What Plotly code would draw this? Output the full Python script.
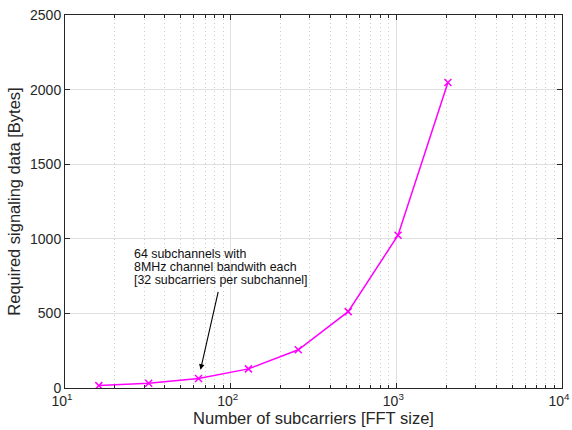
import plotly.graph_objects as go

subcarriers = [16, 32, 64, 128, 256, 512, 1024, 2048]
signaling_bytes = [16, 32, 64, 128, 256, 512, 1024, 2048]
x_tickvals = [10, 100, 1000, 10000]
x_ticktext = ["10<sup>1</sup>", "10<sup>2</sup>", "10<sup>3</sup>", "10<sup>4</sup>"]
y_tickvals = [0, 500, 1000, 1500, 2000, 2500]
note_lines = ["64 subchannels with", "8MHz channel bandwith each", "[32 subcarriers per subchannel]"]
note_y = [900, 812, 724]

fig = go.Figure()
fig.add_trace(go.Scatter(
    x=subcarriers, y=signaling_bytes, mode="lines+markers",
    line=dict(color="#FF00FF", width=1.5),
    marker=dict(symbol="x-thin", size=7, line=dict(color="#FF00FF", width=1.5)),
    showlegend=False,
))

fig.add_annotation(
    x=1.806, y=64, xref="x", yref="y",
    ax=20, ay=-88,
    text="", showarrow=True, arrowhead=2, arrowsize=1, arrowwidth=1.1,
    arrowcolor="black", standoff=9,
)
for line, yv in zip(note_lines, note_y):
    fig.add_annotation(
        x=1.405, y=yv, xref="x", yref="y", xanchor="left", yanchor="middle",
        text=line, showarrow=False, align="left",
        font=dict(size=12.4, color="#111111", family="Liberation Sans"),
    )

axis_common = dict(
    showline=True, linecolor="#262626", linewidth=1, mirror="allticks",
    ticks="inside", ticklen=5, tickcolor="#262626",
    tickfont=dict(size=14, color="#262626", family="Liberation Sans"),
    gridcolor="#DFDFDF", gridwidth=1, zeroline=False, automargin=False,
)

fig.update_xaxes(
    type="log", range=[1, 4], tickvals=x_tickvals, ticktext=x_ticktext,
    ticklabeloverflow="allow", ticklabelshift=-3,
    title=dict(text="Number of subcarriers [FFT size]", standoff=4,
               font=dict(size=16.5, color="#262626", family="Liberation Sans")),
    minor=dict(dtick="D1", ticks="inside", ticklen=3, tickcolor="#262626",
               showgrid=True, gridcolor="#CCCCCC", griddash="1px,3px", gridwidth=1),
    **axis_common,
)
fig.update_yaxes(
    range=[0, 2500], tickvals=y_tickvals,
    title=dict(text="Required signaling data [Bytes]", standoff=5,
               font=dict(size=16.5, color="#262626", family="Liberation Sans")),
    **axis_common,
)

fig.update_layout(
    width=572, height=430,
    margin=dict(l=65, r=10, t=15, b=42),
    plot_bgcolor="white", paper_bgcolor="white",
)

fig.write_html("out.html")
